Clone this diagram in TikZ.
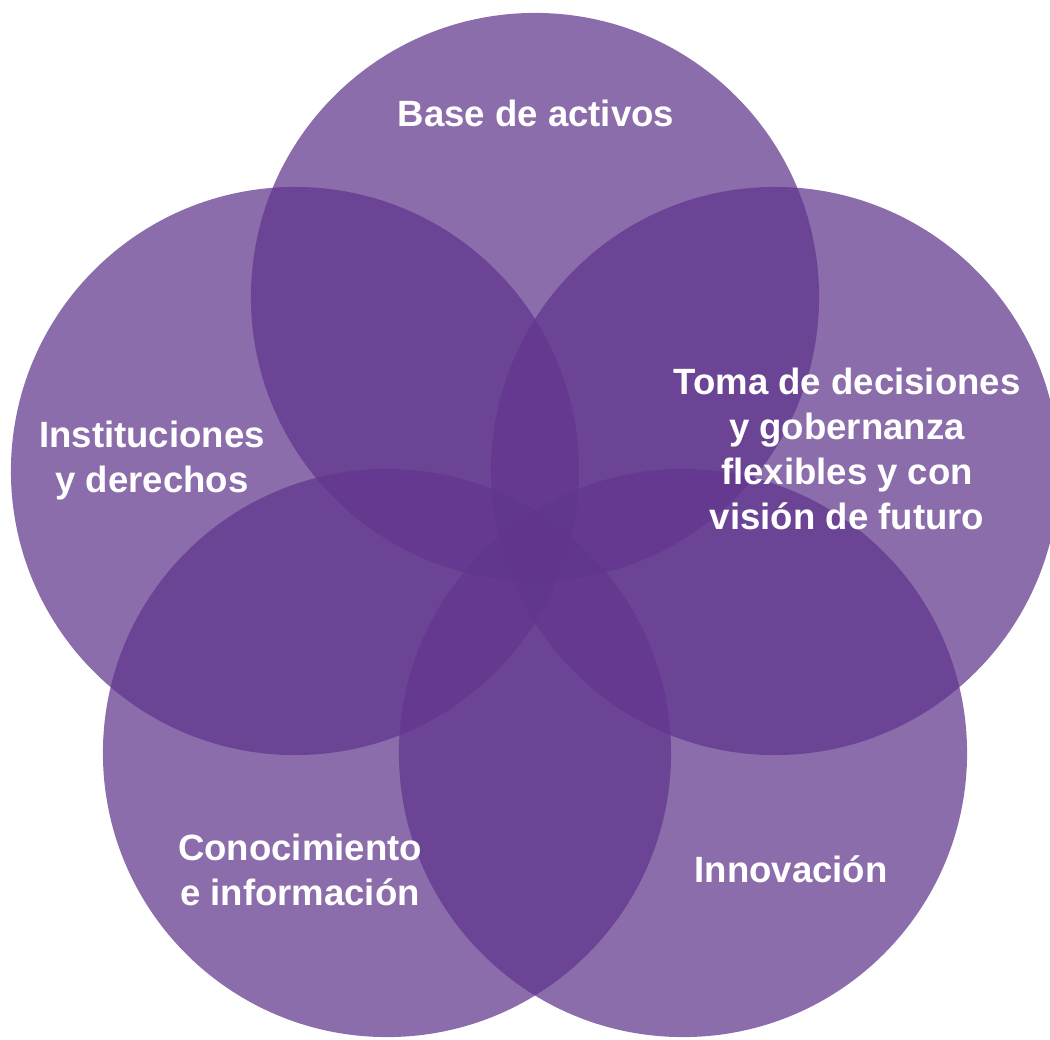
\documentclass[tikz,border=0pt]{standalone}
\usepackage{fontspec}
\setmainfont{Liberation Sans}
\usepackage{tikz}

\definecolor{petalpurple}{RGB}{96,52,140}

\begin{document}
\begin{tikzpicture}[x=0.025cm, y=-0.025cm,
  petal/.style={circle, fill=petalpurple, fill opacity=.72, minimum size=14.2cm, inner sep=0pt},
  petaltext/.style={text=white, align=center, font=\bfseries\fontsize{26}{32}\selectfont}]
  \useasboundingbox (0,0) rectangle (1050,1039);
  \node (cbase) [petal] at (535, 297) {};
  \node (ctoma) [petal] at (775, 471) {};
  \node (cinnov) [petal] at (683, 753) {};
  \node (cconoc) [petal] at (387, 753) {};
  \node (cinst) [petal] at (295, 471) {};
  \node (base) [petaltext] at (536, 113) {Base de activos};
  \node (inst) [petaltext] at (152, 461) {Instituciones\\y derechos};
  \node (toma) [petaltext] at (847, 449) {Toma de decisiones\\y gobernanza\\flexibles y con\\visión de futuro};
  \node (conoc) [petaltext] at (300, 870) {Conocimiento\\e información};
  \node (innov) [petaltext] at (791, 869) {Innovación};
\end{tikzpicture}
\end{document}
